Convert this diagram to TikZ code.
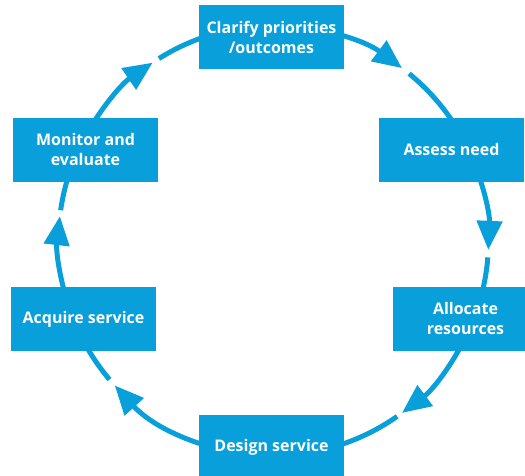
\documentclass[tikz,border=0pt]{standalone}
\usepackage{fontspec}
\setsansfont{Open Sans}
\usetikzlibrary{arrows.meta}
\definecolor{cycleblue}{RGB}{8,159,219}
\tikzset{
  stage/.style={fill=cycleblue, text=white, font=\sffamily\bfseries\fontsize{16}{20}\selectfont,
    minimum width=145pt, minimum height=64pt, inner sep=0pt, align=center},
  flow/.style={draw=cycleblue, line width=5pt, -{Triangle[length=29pt,width=25pt]}},
  link/.style={draw=cycleblue, line width=5pt}
}
\begin{document}
\begin{tikzpicture}[x=1pt,y=1pt]
    \useasboundingbox (0,0) rectangle (525,476);
    \coordinate (c) at (273.5,235.5);
    \def\rad{215}
    \draw[flow] (c) ++(90:\rad) arc[start angle=90, end angle=53.3, radius=\rad];
    \draw[link] (c) ++(50.9:\rad) arc[start angle=50.9, end angle=27, radius=\rad];
    \draw[flow] (c) ++(27:\rad) arc[start angle=27, end angle=-2.5, radius=\rad];
    \draw[link] (c) ++(-4.5:\rad) arc[start angle=-4.5, end angle=-22, radius=\rad];
    \draw[flow] (c) ++(-22:\rad) arc[start angle=-22, end angle=-53.3, radius=\rad];
    \draw[link] (c) ++(-54.9:\rad) arc[start angle=-54.9, end angle=-90, radius=\rad];
    \draw[flow] (c) ++(-90:\rad) arc[start angle=-90, end angle=-137.6, radius=\rad];
    \draw[link] (c) ++(-139.7:\rad) arc[start angle=-139.7, end angle=-157.5, radius=\rad];
    \draw[flow] (c) ++(202.5:\rad) arc[start angle=202.5, end angle=173.5, radius=\rad];
    \draw[link] (c) ++(171.9:\rad) arc[start angle=171.9, end angle=154.3, radius=\rad];
    \draw[flow] (c) ++(154.3:\rad) arc[start angle=154.3, end angle=124.2, radius=\rad];
    \draw[link] (c) ++(122.2:\rad) arc[start angle=122.2, end angle=90, radius=\rad];
    \node[stage] (clarify) at (271.5,439) {Clarify priorities\\/outcomes};
    \node[stage] (assess) at (451.5,326) {Assess need};
    \node[stage] (allocate) at (465.5,157) {Allocate\\resources};
    \node[stage] (design) at (271.5,29) {Design service};
    \node[stage] (acquire) at (83.5,157) {Acquire service};
    \node[stage] (monitor) at (85.5,326) {Monitor and\\evaluate};
\end{tikzpicture}
\end{document}
